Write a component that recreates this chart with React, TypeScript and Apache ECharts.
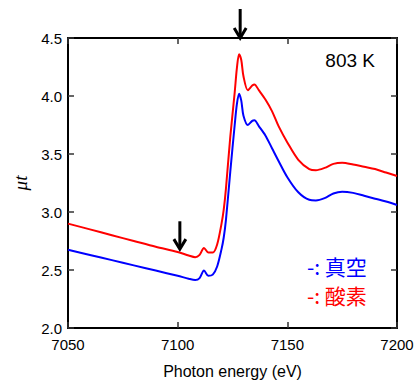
import React, { useEffect, useRef } from "react";
import * as echarts from "echarts";

const energy = [7050, 7060, 7070, 7080, 7090, 7100, 7105, 7108, 7110, 7112, 7114, 7116, 7118, 7120, 7121, 7122, 7124, 7126, 7127, 7128, 7129, 7130, 7132, 7134, 7135, 7137, 7140, 7143, 7146, 7150, 7155, 7160, 7163, 7167, 7171, 7175, 7180, 7185, 7190, 7195, 7200];
const oxygen = [2.9, 2.85, 2.8, 2.75, 2.7, 2.655, 2.625, 2.61, 2.63, 2.69, 2.65, 2.65, 2.72, 2.9, 3.02, 3.2, 3.65, 4.03, 4.24, 4.36, 4.31, 4.17, 4.05, 4.09, 4.1, 4.05, 3.97, 3.87, 3.74, 3.6, 3.45, 3.37, 3.36, 3.38, 3.415, 3.425, 3.41, 3.39, 3.37, 3.34, 3.31];
const vacuum = [2.675, 2.63, 2.585, 2.54, 2.495, 2.45, 2.425, 2.414, 2.43, 2.495, 2.45, 2.46, 2.53, 2.68, 2.78, 2.93, 3.35, 3.75, 3.93, 4.02, 3.96, 3.83, 3.75, 3.785, 3.79, 3.74, 3.66, 3.55, 3.44, 3.3, 3.17, 3.105, 3.1, 3.12, 3.16, 3.175, 3.165, 3.14, 3.115, 3.09, 3.06];
const xTicks = [7050, 7100, 7150, 7200];
const yTicks = [2.0, 2.5, 3.0, 3.5, 4.0, 4.5];
const legendLabels = ["-: 真空", "-: 酸素"];
const tempLabel = "803 K";
const xName = "Photon energy (eV)";
const yName = "μt";
// arrow annotations: [energy, tip value, tail value] (tail/tip may lie outside the plot)
const arrows = [
  [7128.5, 4.5, 4.75],
  [7101, 2.68, 2.92],
];

export default function App() {
  const ref = useRef<HTMLDivElement>(null);
  useEffect(() => {
    document.body.style.margin = "0";
    const chart = echarts.init(ref.current!, null, { renderer: "svg" });
    const font = "'Liberation Sans', Arial, sans-serif";
    const axisCommon = {
      type: "value" as const,
      axisLine: { show: true, onZero: false, lineStyle: { color: "#000", width: 2 } },
      axisTick: { show: true, inside: true, length: 6, lineStyle: { color: "#333", width: 1.5 } },
      splitLine: { show: false },
    };
    const option: any = {
      animation: false,
      grid: { left: 68, right: 17, top: 38, bottom: 53, outerBoundsMode: "none", containLabel: false },
      xAxis: [
        {
          ...axisCommon,
          position: "bottom",
          min: xTicks[0],
          max: xTicks[xTicks.length - 1],
          interval: 50,
          axisLabel: {
            color: "#000",
            fontSize: 15,
            fontFamily: font,
            margin: 9,
            formatter: (v: number) => String(v),
          },
          name: xName,
          nameLocation: "middle",
          nameGap: 35,
          nameTextStyle: { color: "#000", fontSize: 16, fontFamily: font },
        },
        {
          ...axisCommon,
          position: "top",
          min: xTicks[0],
          max: xTicks[xTicks.length - 1],
          interval: 50,
          axisLabel: { show: false },
        },
      ],
      yAxis: [
        {
          ...axisCommon,
          position: "left",
          min: yTicks[0],
          max: yTicks[yTicks.length - 1],
          interval: 0.5,
          axisLabel: {
            color: "#000",
            fontSize: 15,
            fontFamily: font,
            margin: 6,
            formatter: (v: number) => v.toFixed(1),
          },
          name: yName,
          nameLocation: "middle",
          nameGap: 38,
          nameTextStyle: { color: "#000", fontSize: 19, fontStyle: "italic", fontFamily: "'Liberation Serif', serif" },
        },
        {
          ...axisCommon,
          position: "right",
          min: yTicks[0],
          max: yTicks[yTicks.length - 1],
          interval: 0.5,
          axisLabel: { show: false },
        },
      ],
      series: [
        {
          type: "line",
          name: legendLabels[0],
          data: energy.map((e, i) => [e, vacuum[i]]),
          showSymbol: false,
          smooth: 0.3,
          lineStyle: { color: "#0000ff", width: 2 },
          z: 3,
        },
        {
          type: "line",
          name: legendLabels[1],
          data: energy.map((e, i) => [e, oxygen[i]]),
          showSymbol: false,
          smooth: 0.3,
          lineStyle: { color: "#ff0000", width: 2 },
          z: 3,
        },
      ],
    };
    chart.setOption(option);

    const graphics: any[] = [];
    arrows.forEach(([x, tip, tail]) => {
      const pTip = chart.convertToPixel({ xAxisIndex: 0, yAxisIndex: 0 }, [x, tip]) as number[];
      const pTail = chart.convertToPixel({ xAxisIndex: 0, yAxisIndex: 0 }, [x, tail]) as number[];
      graphics.push({
        type: "line",
        shape: { x1: pTip[0], y1: pTail[1], x2: pTip[0], y2: pTip[1] - 2 },
        style: { stroke: "#000", lineWidth: 3 },
        z: 10,
      });
      graphics.push({
        type: "polyline",
        shape: {
          points: [
            [pTip[0] - 6, pTip[1] - 10],
            [pTip[0], pTip[1]],
            [pTip[0] + 6, pTip[1] - 10],
          ],
        },
        style: { stroke: "#000", lineWidth: 3, fill: "none", lineJoin: "miter" },
        z: 10,
      });
    });
    graphics.push({
      type: "text",
      right: 39,
      top: 51,
      style: { text: tempLabel, fill: "#000", fontSize: 19, fontFamily: font },
      z: 10,
    });
    graphics.push({
      type: "text",
      left: 307,
      top: 255,
      style: { text: legendLabels[0], fill: "#0000ff", fontSize: 21, fontFamily: "'Noto Sans CJK JP', sans-serif" },
      z: 10,
    });
    graphics.push({
      type: "text",
      left: 307,
      top: 284,
      style: { text: legendLabels[1], fill: "#ff0000", fontSize: 21, fontFamily: "'Noto Sans CJK JP', sans-serif" },
      z: 10,
    });
    chart.setOption({ graphic: graphics });

    return () => chart.dispose();
  }, []);
  return <div ref={ref} style={{ width: 414, height: 381 }} />;
}
